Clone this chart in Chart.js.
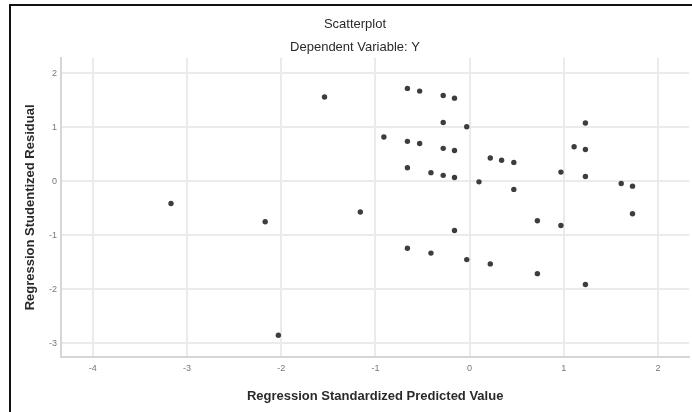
<!DOCTYPE html>
<html><head><meta charset="utf-8">
<script src="https://cdn.jsdelivr.net/npm/chart.js@4/dist/chart.umd.min.js"></script>
<style>html,body{margin:0;padding:0;background:#fff;overflow:hidden}#wrap{width:692px;height:412px;position:relative}</style>
</head><body><div id="wrap"><canvas id="c" width="692" height="412"></canvas></div>
<script>
// Data
const predicted = [-3.17,-2.17,-2.03,-1.54,-1.16,-0.91,-0.66,-0.66,-0.66,-0.66,-0.53,-0.53,-0.41,-0.41,-0.28,-0.28,-0.28,-0.28,-0.16,-0.16,-0.16,-0.16,-0.03,-0.03,0.10,0.22,0.22,0.34,0.47,0.47,0.72,0.72,0.97,0.97,1.11,1.23,1.23,1.23,1.23,1.61,1.73,1.73];
const residual  = [-0.41,-0.75,-2.85,1.56,-0.57,0.82,1.72,0.74,0.25,-1.24,1.67,0.70,0.16,-1.33,1.59,1.09,0.61,0.11,1.54,0.57,0.07,-0.91,1.01,-1.45,-0.01,0.43,-1.53,0.39,0.35,-0.15,-0.73,-1.71,0.17,-0.82,0.64,1.08,0.59,0.09,-1.91,-0.04,-0.09,-0.60];
const xTicks = [-4,-3,-2,-1,0,1,2];
const yTicks = [-3,-2,-1,0,1,2];
const chartTitle = 'Scatterplot';
const chartSubtitle = 'Dependent Variable: Y';
const xTitle = 'Regression Standardized Predicted Value';
const yTitle = 'Regression Studentized Residual';

const FONT = '"Liberation Sans", Arial, sans-serif';
const points = predicted.map((x,i)=>({x:x,y:residual[i]}));

const framePlugin = {
  id:'frame',
  beforeDraw(chart){
    const ctx = chart.ctx;
    ctx.save();
    ctx.fillStyle='#fff';
    ctx.fillRect(0,0,chart.width,chart.height);
    ctx.strokeStyle='#111';
    ctx.lineWidth=2;
    ctx.beginPath();
    ctx.moveTo(10,chart.height); ctx.lineTo(10,5); ctx.lineTo(chart.width,5);
    ctx.stroke();
    ctx.restore();
  }
};

new Chart(document.getElementById('c'),{
  type:'scatter',
  data:{datasets:[{data:points,pointRadius:2.7,pointHoverRadius:2.7,pointStyle:'circle',backgroundColor:'#3d3d3d',borderColor:'#3d3d3d',borderWidth:0}]},
  options:{
    responsive:false, animation:false, devicePixelRatio:1,
    layout:{padding:{left:18,right:0,top:0,bottom:0}},
    plugins:{
      legend:{display:false}, tooltip:{enabled:false},
      title:{display:true,text:chartTitle,color:'#2a2a2a',font:{family:FONT,size:13,weight:'normal'},padding:{top:17,bottom:7}},
      subtitle:{display:true,text:chartSubtitle,color:'#2a2a2a',font:{family:FONT,size:13,weight:'normal'},padding:{top:0,bottom:2.6}}
    },
    scales:{
      x:{type:'linear',min:-4.338,max:2.333,
        afterBuildTicks:s=>{s.ticks=xTicks.map(v=>({value:v}));},
        afterFit:s=>{s.height=55;},
        grid:{color:'#ebebeb',lineWidth:2,drawTicks:false},
        border:{display:true,color:'#d6d6d6',width:2},
        ticks:{color:'#777',font:{family:FONT,size:9},padding:6,callback:v=>String(v)},
        title:{display:true,text:xTitle,color:'#2a2a2a',font:{family:FONT,size:13,weight:'bold'},padding:{top:0,bottom:8}}
      },
      y:{type:'linear',min:-3.254,max:2.287,
        afterBuildTicks:s=>{s.ticks=yTicks.map(v=>({value:v}));},
        afterFit:s=>{s.width=43;},
        grid:{color:'#ebebeb',lineWidth:2,drawTicks:false},
        border:{display:true,color:'#d6d6d6',width:2},
        ticks:{color:'#777',font:{family:FONT,size:9},padding:4,callback:v=>String(v)},
        title:{display:true,text:yTitle,color:'#2a2a2a',font:{family:FONT,size:13,weight:'bold'},padding:{top:5,bottom:0}}
      }
    }
  },
  plugins:[framePlugin]
});
</script></body></html>
